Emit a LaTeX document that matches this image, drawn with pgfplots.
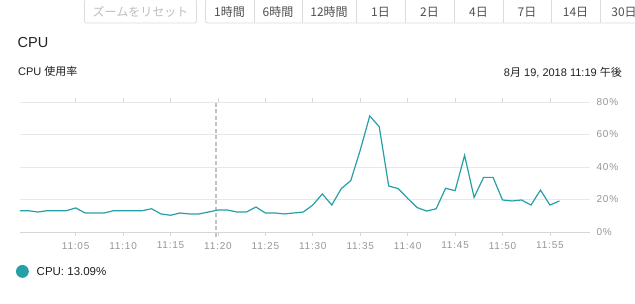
\documentclass[border=0pt]{standalone}
\usepackage{pgfplots}
\pgfplotsset{compat=1.18}
\usepackage{fontspec}
\setmainfont{Liberation Sans}
\newfontfamily\jp{Noto Sans CJK JP}
\newfontfamily\tickfont[LetterSpace=8]{Liberation Sans}
\definecolor{cpu}{RGB}{38,160,168}
\definecolor{btnborder}{RGB}{220,220,220}
\definecolor{btnlight}{RGB}{190,190,190}
\definecolor{btntext}{RGB}{80,80,80}
\definecolor{titletext}{RGB}{33,33,33}
\definecolor{gridcol}{RGB}{232,232,232}
\definecolor{axiscol}{RGB}{214,214,214}
\definecolor{labcol}{RGB}{150,150,150}
\definecolor{cursorcol}{RGB}{195,195,195}
% x = minutes since 10:59:08 (11:00 -> 0.87)
\pgfplotstableread{
x y
0 13.1
0.87 13.1
1.87 12.3
2.87 13.1
3.87 13.1
4.87 13.1
5.87 14.8
6.87 11.7
7.87 11.7
8.87 11.7
9.87 13.1
10.87 13.1
11.87 13.1
12.87 13.1
13.87 14.3
14.87 11.1
15.87 10.3
16.87 11.7
17.87 11.1
18.87 11.1
19.87 12.3
20.87 13.5
21.87 13.5
22.87 12.3
23.87 12.3
24.87 15.4
25.87 11.7
26.87 11.7
27.87 11.1
28.87 11.7
29.87 12.3
30.87 16.6
31.87 23.4
32.87 16.6
33.87 26.7
34.87 31.6
35.87 50.4
36.87 71.4
37.87 64.8
38.87 28.3
39.87 26.7
40.87 20.7
41.87 15.0
42.87 12.9
43.87 14.3
44.87 26.9
45.87 25.4
46.87 47.2
47.87 21.3
48.87 33.6
49.87 33.6
50.87 19.7
51.87 19.1
52.87 19.7
53.87 16.6
54.87 25.8
55.87 16.6
56.87 19.1
}\cpudata
\begin{document}
\begin{tikzpicture}
\useasboundingbox (0pt,0pt) rectangle (635pt,304pt);
\fill[white] (0pt,0pt) rectangle (635pt,304pt);
\begin{axis}[
  at={(20pt,72pt)}, anchor=origin, scale only axis,
  width=570pt, height=130pt,
  xmin=0, xmax=60.09, ymin=0, ymax=80,
  clip=false,
  axis line style={draw=none},
  ytick={0,20,40,60,80},
  yticklabels={0\%,20\%,40\%,60\%,80\%},
  yticklabel pos=right,
  ymajorgrids,
  grid style={gridcol, line width=0.9pt},
  ytick style={draw=none},
  xtick={5.87,10.87,15.87,20.87,25.87,30.87,35.87,40.87,45.87,50.87,55.87},
  xticklabels={11:05,11:10,11:15,11:20,11:25,11:30,11:35,11:40,11:45,11:50,11:55},
  xtick align=outside,
  major tick length=4pt,
  xtick style={axiscol, line width=0.9pt},
  tick label style={font=\tickfont\fontsize{10}{12}\selectfont, text=labcol},
  /pgf/number format/assume math mode=true,
  yticklabel style={anchor=west, xshift=3pt},
  xticklabel style={yshift=-2.5pt},
  legend style={at={(axis description cs:-0.007,-0.3077)}, anchor=west, draw=none, fill=none,
    inner sep=0pt, outer sep=0pt, font=\fontsize{11.5}{13}\selectfont, text=titletext},
  legend image code/.code={\path (0pt,0pt) (17.5pt,0pt); \fill[cpu] (5.8pt,0.08em) circle (5.8pt);},
]
\draw[axiscol, line width=0.9pt] (rel axis cs:0,0) -- (rel axis cs:1,0);
\addplot[cursorcol, line width=1.4pt, dash pattern=on 4pt off 2.5pt, forget plot] coordinates {(20.67,-2.8) (20.67,80)};
\addplot[cpu, line width=1.2pt, mark=none] table[x=x, y=y] {\cpudata};
\addlegendentry{CPU: 13.09\%}
\end{axis}
% zoom/range buttons
\begin{scope}[x=1pt,y=1pt]
\draw[btnborder, rounded corners=2pt, line width=0.8pt] (84.5,281) rectangle (196.5,304.5);
\node[anchor=base, text=btnlight, font=\jp\fontsize{12}{14}\selectfont, inner sep=0pt] at (140.5,287) {ズームをリセット};
\draw[btnborder, rounded corners=2pt, line width=0.8pt] (205.5,281) rectangle (680,304.5);
\foreach \xx in {254,302,356,405,454,503,551,600} \draw[btnborder, line width=0.8pt] (\xx,281) -- (\xx,304.5);
\foreach \cx/\lab in {229.5/1時間, 278/6時間, 329/12時間, 380.5/1日, 429.5/2日, 478.5/4日, 527/7日, 575.5/14日, 624/30日}
  \node[anchor=base, text=btntext, font=\jp\fontsize{12}{14}\selectfont, inner sep=0pt] at (\cx,287) {\lab};
% titles
\node[anchor=base west, inner sep=0pt, text=titletext, font=\fontsize{14.5}{16}\selectfont] at (17.5,256.7) {CPU};
\node[anchor=base west, inner sep=0pt, text=titletext, font=\fontsize{11}{13}\selectfont] at (18,228.3) {CPU {\jp 使用率}};
\node[anchor=base east, inner sep=0pt, text=titletext, font=\fontsize{11}{13}\selectfont] at (622,227.3) {8{\jp 月} 19, 2018 11:19 {\jp 午後}};
\end{scope}
\end{tikzpicture}
\end{document}
